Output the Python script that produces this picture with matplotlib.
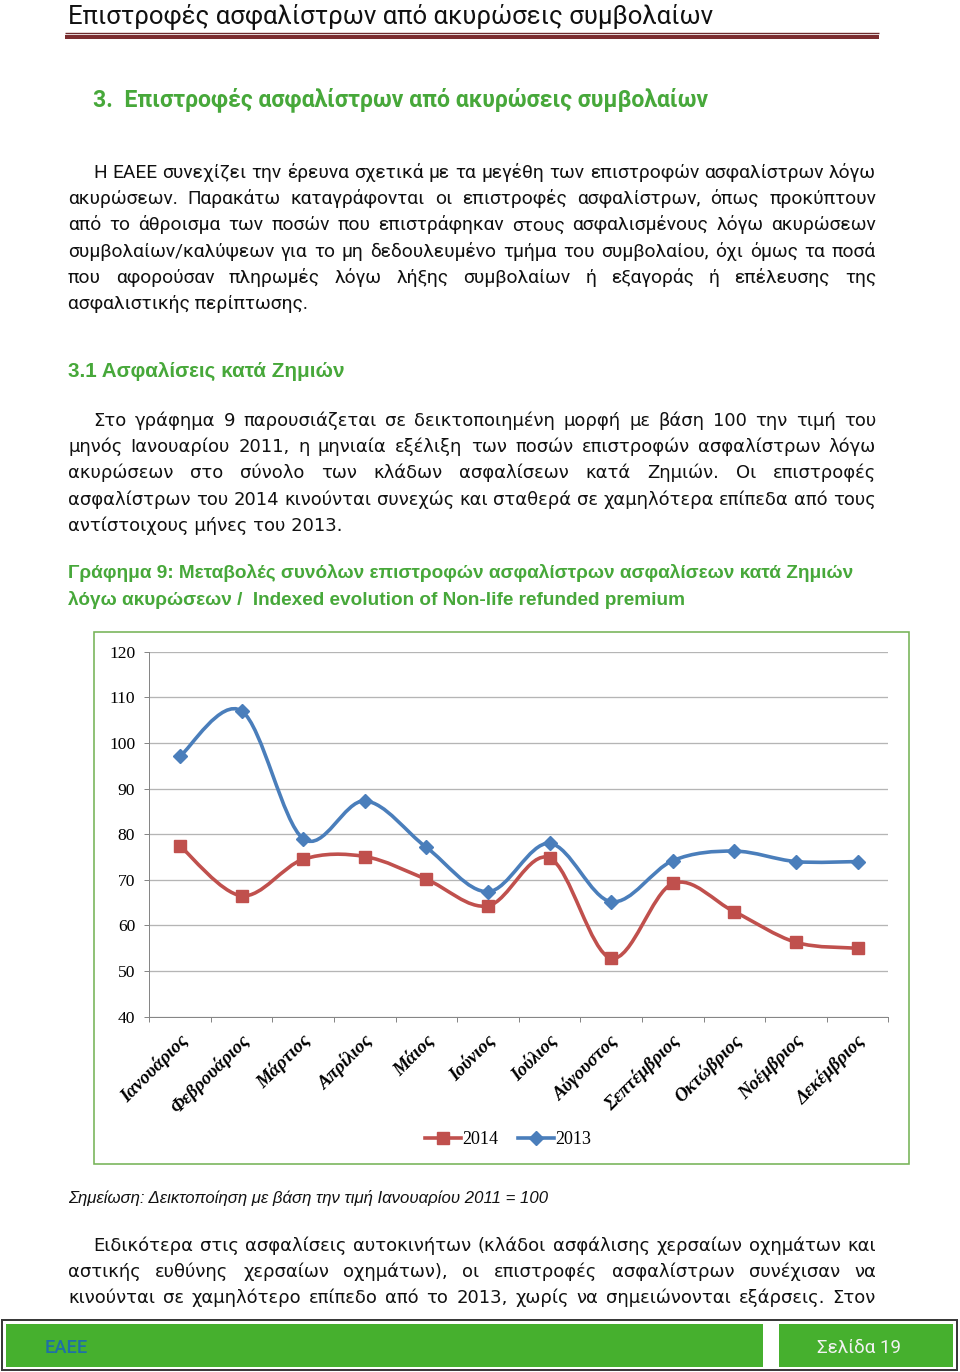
import numpy as np
import matplotlib
matplotlib.use("Agg")
import matplotlib.pyplot as plt
from matplotlib.path import Path
from matplotlib.patches import PathPatch, Rectangle
from matplotlib.lines import Line2D
import matplotlib.transforms as mtransforms

# ---------------- data ----------------
months = ['Ιανουάριος', 'Φεβρουάριος', 'Μάρτιος', 'Απρίλιος', 'Μάιος', 'Ιούνιος',
          'Ιούλιος', 'Αύγουστος', 'Σεπτέμβριος', 'Οκτώβριος', 'Νοέμβριος', 'Δεκέμβριος']
v2014 = [77.4, 66.5, 74.5, 75.1, 70.1, 64.3, 74.8, 52.8, 69.2, 63.0, 56.3, 55.0]
v2013 = [97.1, 107.0, 79.0, 87.3, 77.1, 67.4, 78.0, 65.2, 74.2, 76.3, 74.0, 74.0]
yticks = [40, 50, 60, 70, 80, 90, 100, 110, 120]
series_names = ['2014', '2013']

header_title = 'Επιστροφές ασφαλίστρων από ακυρώσεις συμβολαίων'
section_title = '3.  Επιστροφές ασφαλίστρων από ακυρώσεις συμβολαίων'
para1 = ['Η ΕΑΕΕ συνεχίζει την έρευνα σχετικά με τα μεγέθη των επιστροφών ασφαλίστρων λόγω',
         'ακυρώσεων. Παρακάτω καταγράφονται οι επιστροφές ασφαλίστρων, όπως προκύπτουν',
         'από το άθροισμα των ποσών που επιστράφηκαν στους ασφαλισμένους λόγω ακυρώσεων',
         'συμβολαίων/καλύψεων για το μη δεδουλευμένο τμήμα του συμβολαίου, όχι όμως τα ποσά',
         'που αφορούσαν πληρωμές λόγω λήξης συμβολαίων ή εξαγοράς ή επέλευσης της',
         'ασφαλιστικής περίπτωσης.']
sub_title = '3.1 Ασφαλίσεις κατά Ζημιών'
para2 = ['Στο γράφημα 9 παρουσιάζεται σε δεικτοποιημένη μορφή με βάση 100 την τιμή του',
         'μηνός Ιανουαρίου 2011, η μηνιαία εξέλιξη των ποσών επιστροφών ασφαλίστρων λόγω',
         'ακυρώσεων στο σύνολο των κλάδων ασφαλίσεων κατά Ζημιών. Οι επιστροφές',
         'ασφαλίστρων του 2014 κινούνται συνεχώς και σταθερά σε χαμηλότερα επίπεδα από τους',
         'αντίστοιχους μήνες του 2013.']
caption = ['Γράφημα 9: Μεταβολές συνόλων επιστροφών ασφαλίστρων ασφαλίσεων κατά Ζημιών',
           'λόγω ακυρώσεων /  Indexed evolution of Non-life refunded premium']
note = 'Σημείωση: Δεικτοποίηση με βάση την τιμή Ιανουαρίου 2011 = 100'
para3 = ['Ειδικότερα στις ασφαλίσεις αυτοκινήτων (κλάδοι ασφάλισης χερσαίων οχημάτων και',
         'αστικής ευθύνης χερσαίων οχημάτων), οι επιστροφές ασφαλίστρων συνέχισαν να',
         'κινούνται σε χαμηλότερο επίπεδο από το 2013, χωρίς να σημειώνονται εξάρσεις. Στον']
footer_left = 'ΕΑΕΕ'
footer_right = 'Σελίδα 19'

# ---------------- figure ----------------
W, H = 960, 1372
DPI = 100
PT = 72.0 / DPI  # px -> pt
fig = plt.figure(figsize=(W / DPI, H / DPI), dpi=DPI)
fig.patch.set_facecolor('white')

pa = fig.add_axes([0, 0, 1, 1])
pa.set_xlim(0, W)
pa.set_ylim(H, 0)
pa.axis('off')

r = fig.canvas.get_renderer()

GREEN_TXT = '#47a83a'
SANS_C = 'Roboto'            # Calibri-like
SANS_A = 'DejaVu Sans'       # wide Arial-like body text
SANS_B = 'Liberation Sans'
SERIF = 'Liberation Serif'   # Times-like


def twidth(t):
    return t.get_window_extent(renderer=r).width


def fit_text(x, y, s, target_w, family, size0, **kw):
    t = pa.text(x, y, s, fontsize=size0, family=family, va='baseline', ha='left', **kw)
    w = twidth(t)
    t.set_fontsize(size0 * target_w / w)
    return t


def paragraph(lines, x_first, x_left, x_right, y0, dy, family, size, justify_last=False, **kw):
    for i, line in enumerate(lines):
        x0 = x_first if i == 0 else x_left
        y = y0 + i * dy
        last = (i == len(lines) - 1)
        words = line.split(' ')
        if (last and not justify_last) or len(words) == 1:
            pa.text(x0, y, line, fontsize=size, family=family, va='baseline', ha='left', **kw)
            continue
        ts = [pa.text(0, y, wd, fontsize=size, family=family, va='baseline', ha='left', **kw)
              for wd in words]
        ws = [twidth(t) for t in ts]
        gap = (x_right - x0 - sum(ws)) / (len(words) - 1)
        x = x0
        for t, w in zip(ts, ws):
            t.set_x(x)
            x += w + gap


# ---- header ----
fit_text(68, 24, header_title, 645, SANS_C, 19, color='#111111')
pa.plot([65, 879], [33, 33], color='#6e2a2c', lw=1.4 * PT, solid_capstyle='butt')
pa.plot([65, 879], [37, 37], color='#7b2d30', lw=4.0 * PT, solid_capstyle='butt')

# ---- section title ----
fit_text(93, 106, section_title, 615, SANS_C, 17, color=GREEN_TXT, fontweight='bold')

# ---- paragraph 1 ----
paragraph(para1, 93, 68, 876, 178, 26.2, SANS_C, 19.2 * PT, color='#111111')

# ---- subsection ----
fit_text(68, 377, sub_title, 278, SANS_B, 14, color=GREEN_TXT, fontweight='bold')

# ---- paragraph 2 ----
paragraph(para2, 93, 68, 876, 426, 26.2, SANS_A, 18.0 * PT, color='#111111')

# ---- caption ----
t_cap = fit_text(68, 578, caption[0], 787, SANS_B, 13, color=GREEN_TXT, fontweight='bold')
pa.text(68, 605, caption[1], fontsize=t_cap.get_fontsize(), family=SANS_B, va='baseline',
        ha='left', color=GREEN_TXT, fontweight='bold')

# ---- chart frame ----
pa.add_patch(Rectangle((94, 632), 909 - 94, 1164 - 632, fill=False,
                       edgecolor='#76b457', lw=1.6 * PT))

# ---- chart axes ----
L, R, T, B = 149.3, 888.3, 651.7, 1016.7
ax = fig.add_axes([L / W, 1 - B / H, (R - L) / W, (B - T) / H])
ax.patch.set_alpha(0)
n = len(months)
xc = np.arange(n) + 0.5
ax.set_xlim(0, n)
ax.set_ylim(yticks[0], yticks[-1])
ax.set_yticks(yticks)
ax.set_yticklabels([str(v) for v in yticks], family=SERIF, fontsize=17.5 * PT)
ax.yaxis.grid(True, color='#b5b5b5', lw=1.3 * PT)
ax.set_axisbelow(True)
ax.set_xticks(np.arange(n + 1))
ax.set_xticklabels([''] * (n + 1))
ax.set_xticks(xc, minor=True)
ax.set_xticklabels(months, minor=True, rotation=45, ha='right', va='center',
                   rotation_mode='anchor', family=SERIF, fontsize=18.8 * PT,
                   fontweight='bold', fontstyle='italic')
ax.tick_params(axis='x', which='major', length=5 * PT, width=1 * PT, color='#868686', direction='out')
ax.tick_params(axis='x', which='minor', length=0, pad=21 * PT)
ax.tick_params(axis='y', length=5 * PT, width=1 * PT, color='#868686', pad=9 * PT)
offset = mtransforms.ScaledTranslation(5 / DPI, 0, fig.dpi_scale_trans)
for lab in ax.get_xticklabels(minor=True):
    lab.set_transform(lab.get_transform() + offset)
for s in ['top', 'right']:
    ax.spines[s].set_visible(False)
for s in ['left', 'bottom']:
    ax.spines[s].set_color('#868686')
    ax.spines[s].set_linewidth(1 * PT)


def smooth_path(xs, ys):
    pts = np.column_stack([xs, ys]).astype(float)
    m = len(pts)
    verts = [pts[0]]
    codes = [Path.MOVETO]
    for i in range(m - 1):
        p0 = pts[i - 1] if i > 0 else pts[i]
        p1 = pts[i]
        p2 = pts[i + 1]
        p3 = pts[i + 2] if i + 2 < m else pts[i + 1]
        c1 = p1 + (p2 - p0) / 6.0
        c2 = p2 - (p3 - p1) / 6.0
        verts += [c1, c2, p2]
        codes += [Path.CURVE4] * 3
    return Path(verts, codes)


RED = '#c0504d'
BLUE = '#4a7ebb'
LW = 3.6 * PT
styles = [(v2014, RED, 's', 12 * PT), (v2013, BLUE, 'D', 10 * PT)]
for vals, col, mk, ms in styles:
    ax.add_patch(PathPatch(smooth_path(xc, vals), fill=False, edgecolor=col, lw=LW,
                           capstyle='round', joinstyle='round', zorder=3))
    ax.plot(xc, vals, linestyle='none', marker=mk, ms=ms, color=col, mec=col, zorder=4,
            clip_on=False)

handles = [Line2D([], [], color=c, lw=LW, marker=mk, ms=ms) for _, c, mk, ms in styles]
fig.legend(handles, series_names, loc='center', bbox_to_anchor=(508 / W, 1 - 1140 / H),
           ncol=2, frameon=False, prop={'family': SERIF, 'size': 18 * PT},
           handlelength=2.0, handletextpad=0.05, columnspacing=1.1)

# ---- note ----
fit_text(68, 1203, note, 482, SANS_B, 11, color='#111111', fontstyle='italic')

# ---- paragraph 3 ----
paragraph(para3, 93, 68, 876, 1251, 26.2, SANS_A, 18.0 * PT, justify_last=True, color='#111111')

# ---- footer ----
pa.add_patch(Rectangle((2, 1320), 955, 50, fill=False, edgecolor='#3a3a3a', lw=2 * PT))
pa.add_patch(Rectangle((6, 1324), 757, 43, facecolor='#46b02e', edgecolor='none'))
pa.add_patch(Rectangle((779, 1324), 174, 43, facecolor='#46b02e', edgecolor='none'))
fit_text(45, 1353, footer_left, 43, SANS_C, 14, color='#1f6fa8', fontweight='medium')
fit_text(817, 1353, footer_right, 85, SANS_C, 14, color='#f2f2f2')

fig.savefig('out.png', dpi=DPI, facecolor='white')
